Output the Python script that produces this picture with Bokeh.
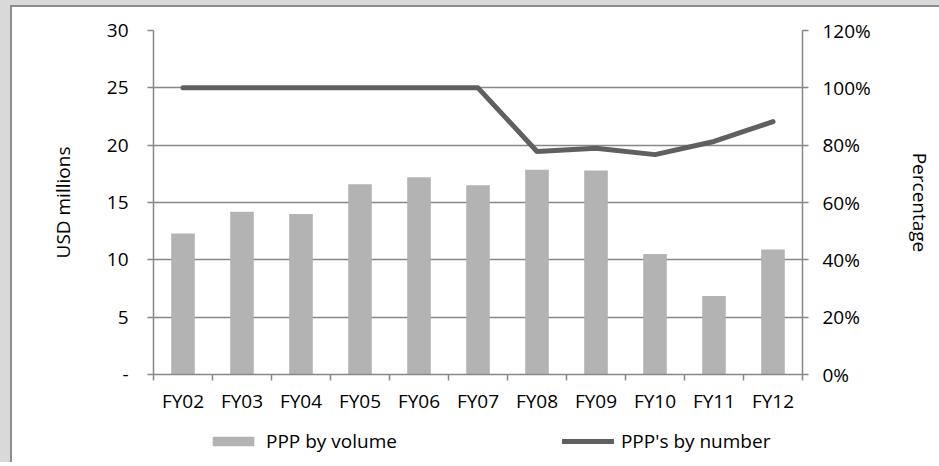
from bokeh.plotting import figure
from bokeh.models import (Range1d, LinearAxis, FixedTicker, PrintfTickFormatter,
                          Legend, LegendItem, ColumnDataSource, Grid)
from bokeh.layouts import column
from bokeh.embed import file_html
from bokeh.resources import INLINE

try:
    from bokeh.models import GlobalInlineStyleSheet
except ImportError:
    GlobalInlineStyleSheet = None

# Fiscal years and the two series
years = ["FY02", "FY03", "FY04", "FY05", "FY06", "FY07",
         "FY08", "FY09", "FY10", "FY11", "FY12"]
volume_usd_m = [12.3, 14.2, 14.0, 16.6, 17.2, 16.5, 17.85, 17.8, 10.5, 6.85, 10.9]
number_pct = [100, 100, 100, 100, 100, 100, 77.8, 78.9, 76.7, 81.3, 88.2]

left_ticks = [0, 5, 10, 15, 20, 25, 30]
right_ticks = [0, 20, 40, 60, 80, 100, 120]

FONT = "Open Sans"
TXT = "19px"
AXIS_GREY = "#878787"
BAR_GREY = "#b3b3b3"
LINE_GREY = "#606060"

xs = [i + 0.5 for i in range(len(years))]
src = ColumnDataSource(dict(x=xs, vol=volume_usd_m, pct=number_pct))

p = figure(width=939, height=420, output_backend="svg", toolbar_location=None,
           x_range=Range1d(0, len(years)), y_range=Range1d(0, 30),
           min_border_left=153, min_border_right=137,
           min_border_top=30, min_border_bottom=46,
           x_axis_type=None, y_axis_type=None)
p.outline_line_color = None
p.background_fill_color = "white"
p.border_fill_alpha = 0
p.extra_y_ranges = {"pct": Range1d(0, 120)}

# bottom category axis: labels at centres, tick marks between categories
xaxis = LinearAxis(ticker=FixedTicker(ticks=xs, minor_ticks=list(range(len(years) + 1))),
                   major_label_overrides={x: y for x, y in zip(xs, years)})
xaxis.major_tick_line_color = None
xaxis.major_tick_out = 6
xaxis.minor_tick_in = 0
xaxis.minor_tick_out = 6
xaxis.minor_tick_line_color = AXIS_GREY
xaxis.minor_tick_line_width = 1.5
xaxis.major_label_standoff = 7
p.add_layout(xaxis, "below")

# left axis (USD millions)
yl = LinearAxis(ticker=FixedTicker(ticks=left_ticks), axis_label="USD millions",
                major_label_overrides={0: "-"})
yl.major_tick_in = 0
yl.major_tick_out = 6
yl.minor_tick_line_color = None
yl.major_label_standoff = 19
yl.axis_label_standoff = 28
p.add_layout(yl, "left")

# right axis (percentage)
yr = LinearAxis(y_range_name="pct", ticker=FixedTicker(ticks=right_ticks),
                formatter=PrintfTickFormatter(format="%d%%"), axis_label="Percentage")
yr.major_tick_in = 0
yr.major_tick_out = 6
yr.minor_tick_line_color = None
yr.major_label_standoff = 14
yr.axis_label_standoff = 33
p.add_layout(yr, "right")

for ax in (xaxis, yl, yr):
    ax.axis_line_color = AXIS_GREY
    ax.axis_line_width = 1.5
    ax.major_tick_line_width = 1.5
    if ax is not xaxis:
        ax.major_tick_line_color = AXIS_GREY
    ax.major_label_text_font = FONT
    ax.major_label_text_font_size = TXT
    ax.major_label_text_color = "#000000"
    ax.axis_label_text_font = FONT
    ax.axis_label_text_font_size = TXT
    ax.axis_label_text_font_style = "normal"
    ax.axis_label_text_color = "#000000"

# horizontal gridlines only
grid = Grid(dimension=1, ticker=FixedTicker(ticks=left_ticks))
grid.grid_line_color = AXIS_GREY
grid.grid_line_width = 1.5
p.add_layout(grid)

p.vbar(x="x", top="vol", width=0.4, source=src, fill_color=BAR_GREY, line_color=None)
p.line(x="x", y="pct", source=src, y_range_name="pct",
       line_color=LINE_GREY, line_width=5, line_cap="round", line_join="round")

# legend strip underneath the chart; its key glyphs sit outside the visible range
q = figure(width=939, height=42, output_backend="svg", toolbar_location=None,
           x_range=Range1d(0, 1), y_range=Range1d(0, 1),
           min_border=0, min_border_left=153, min_border_right=137,
           min_border_top=0, min_border_bottom=0,
           x_axis_type=None, y_axis_type=None)
q.outline_line_color = None
q.background_fill_color = "white"
q.border_fill_alpha = 0
q.xgrid.visible = False
q.ygrid.visible = False
key_src = ColumnDataSource(dict(x=[-10, -9], top=[-10, -10], y=[-10, -10]))
key_bar = q.vbar(x="x", top="top", width=0.4, source=key_src,
                 fill_color=BAR_GREY, line_color=None)
key_line = q.line(x="x", y="y", source=key_src, line_color=LINE_GREY, line_width=5,
                  line_cap="round")

legend = Legend(items=[LegendItem(label="PPP by volume", renderers=[key_bar]),
                       LegendItem(label="PPP's by number", renderers=[key_line])],
                location=(54, 8), orientation="horizontal")
legend.border_line_color = None
legend.background_fill_alpha = 0
legend.padding = 0
legend.margin = 0
legend.spacing = 165
legend.glyph_width = 52
legend.glyph_height = 12
legend.label_standoff = 7
legend.label_text_font = FONT
legend.label_text_font_size = TXT
legend.label_text_color = "#000000"
q.add_layout(legend)

# grey surround with a darker rule along the top and left edges
page = column(p, q, width=939, height=462, spacing=0,
              styles={"background": "linear-gradient(#fff, #fff) 12px 7px / 100% 100% no-repeat, "
                                    "linear-gradient(#8c8c8c, #8c8c8c) 10px 5px / 100% 100% no-repeat, "
                                    "#d9d9d9"})
if GlobalInlineStyleSheet is not None:
    page.stylesheets = [GlobalInlineStyleSheet(css="html, body { overflow: hidden; background: #ffffff; }")]

open("out.html", "w").write(file_html(page, INLINE))
